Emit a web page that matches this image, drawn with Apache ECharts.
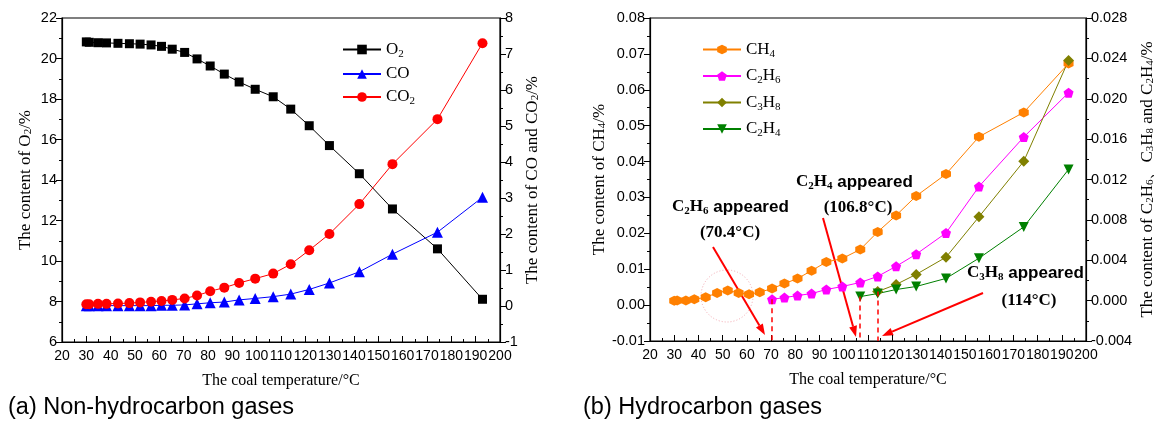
<!DOCTYPE html>
<html>
<head>
<meta charset="utf-8">
<script src="https://cdn.jsdelivr.net/npm/echarts@6/dist/echarts.min.js"></script>
<style>
html, body { margin: 0; padding: 0; background: #fff; }
#main { width: 1158px; height: 427px; }
</style>
</head>
<body>
<div id="main"></div>
<script>
// coal temperatures (°C) of the samples
var temps = [30, 31.2, 34.8, 38.3, 43, 47.7, 52.1, 56.6, 60.9, 65.3, 70.4, 75.5, 80.9, 86.7, 92.8, 99.4, 106.8, 114, 121.6, 129.9, 142.2, 155.8, 174.3, 192.8];

// (a) non-hydrocarbon gases, %
var o2  = [20.82, 20.8, 20.78, 20.77, 20.75, 20.73, 20.71, 20.67, 20.6, 20.46, 20.3, 19.98, 19.63, 19.23, 18.84, 18.48, 18.11, 17.5, 16.68, 15.7, 14.31, 12.57, 10.6, 8.11];
var co  = [0.01, 0.01, 0.01, 0.01, 0.01, 0.01, 0.01, 0.01, 0.02, 0.02, 0.03, 0.06, 0.09, 0.11, 0.17, 0.21, 0.26, 0.33, 0.46, 0.64, 0.95, 1.44, 2.05, 3.02];
var co2 = [0.05, 0.05, 0.06, 0.06, 0.07, 0.08, 0.1, 0.12, 0.14, 0.17, 0.21, 0.29, 0.41, 0.51, 0.64, 0.76, 0.9, 1.16, 1.55, 2.0, 2.83, 3.94, 5.19, 7.3];

// (b) hydrocarbon gases, %
var ch4  = [0.0012, 0.0013, 0.0013, 0.0016, 0.0022, 0.0034, 0.0041, 0.0034, 0.003, 0.0036, 0.0046, 0.006, 0.0074, 0.0096, 0.012, 0.013, 0.0155, 0.0204, 0.025, 0.0304, 0.0365, 0.0469, 0.0537, 0.0673];
var c2h6 = [null, null, null, null, null, null, null, null, null, null, 0.00013, 0.0003, 0.0005, 0.0007, 0.0011, 0.0014, 0.0018, 0.0024, 0.0034, 0.0046, 0.0067, 0.0113, 0.0162, 0.0206];
var c3h8 = [null, null, null, null, null, null, null, null, null, null, null, null, null, null, null, null, null, 0.0009, 0.0016, 0.0026, 0.0043, 0.0083, 0.0138, 0.0238];
var c2h4 = [null, null, null, null, null, null, null, null, null, null, null, null, null, null, null, null, 0.0004, 0.0007, 0.0011, 0.0014, 0.0022, 0.0042, 0.0073, 0.013];

// temperatures where the gases first appear
var c2h6At = 70.4, c2h4At = 106.8, c3h8At = 114;

function pairs(vals){
	var out = [];
	for (var i = 0; i < temps.length; i++) {
		if (vals[i] !== null) out.push([temps[i], vals[i]]);
	}
	return out;
}
function firstVal(vals){
	for (var i = 0; i < vals.length; i++) if (vals[i] !== null) return vals[i];
}

var serif = '"Liberation Serif", "Times New Roman", serif';
var sans = '"Liberation Sans", Arial, sans-serif';

var subRich = {
	t: {fontFamily: serif, fontSize: 17, color: '#000', lineHeight: 20, verticalAlign: 'middle'},
	s: {fontFamily: serif, fontSize: 11, color: '#000', lineHeight: 8, verticalAlign: 'bottom'},
	tb: {fontFamily: serif, fontSize: 17, fontWeight: 'bold', color: '#000', lineHeight: 20, verticalAlign: 'middle'},
	sb: {fontFamily: serif, fontSize: 11, fontWeight: 'bold', color: '#000', lineHeight: 8, verticalAlign: 'bottom'},
	ab: {fontFamily: sans, fontSize: 17, fontWeight: 'bold', color: '#000', lineHeight: 20, verticalAlign: 'middle'}
};

var legendNames = {
	'O2': '{t|O}{s|2}', 'CO': '{t|CO}', 'CO2': '{t|CO}{s|2}',
	'CH4': '{t|CH}{s|4}', 'C2H6': '{t|C}{s|2}{t|H}{s|6}', 'C3H8': '{t|C}{s|3}{t|H}{s|8}', 'C2H4': '{t|C}{s|2}{t|H}{s|4}'
};

function xAx(gi){
	return {
		type: 'value', gridIndex: gi, min: 20, max: 200, interval: 10,
		name: 'The coal temperature/°C', nameLocation: 'middle', nameGap: 31,
		nameTextStyle: {fontFamily: serif, fontSize: 16, color: '#000'},
		axisLine: {onZero: false, lineStyle: {color: '#000', width: 1.2}},
		axisTick: {inside: true, length: 6, lineStyle: {color: '#000'}},
		minorTick: {show: true, splitNumber: 2, length: 3, lineStyle: {color: '#000'}},
		axisLabel: {fontFamily: sans, fontSize: 14, color: '#000', margin: 7,
			hideOverlap: false, showMinLabel: true, showMaxLabel: true},
		splitLine: {show: false}
	};
}
function yAx(gi, pos, mn, mx, step, digits, name, gap){
	return {
		type: 'value', gridIndex: gi, position: pos, min: mn, max: mx, interval: step,
		name: name, nameLocation: 'middle', nameGap: gap,
		nameTextStyle: {fontFamily: serif, fontSize: 17, color: '#000', rich: subRich},
		axisLine: {show: true, onZero: false, lineStyle: {color: '#000', width: 1.2}},
		axisTick: {show: true, inside: false, length: 6, lineStyle: {color: '#000'}},
		minorTick: {show: true, splitNumber: 2, length: 3, lineStyle: {color: '#000'}},
		axisLabel: {fontFamily: sans, fontSize: 14.5, color: '#000', margin: 5,
			showMinLabel: true, showMaxLabel: true,
			formatter: function(v){ return v.toFixed(digits); }},
		splitLine: {show: false}
	};
}

function arrow(x1, y1, x2, y2){
	var dx = x2 - x1, dy = y2 - y1, len = Math.sqrt(dx*dx + dy*dy);
	var ux = dx/len, uy = dy/len, hl = 11, hw = 4;
	var bx = x2 - ux*hl, by = y2 - uy*hl;
	return [
		{type: 'line', shape: {x1: x1, y1: y1, x2: bx, y2: by}, style: {stroke: '#f00', lineWidth: 2}},
		{type: 'polygon', shape: {points: [[x2, y2], [bx - uy*hw, by + ux*hw], [bx + uy*hw, by - ux*hw]]}, style: {fill: '#f00'}}
	];
}
function note(x, y, txt, align){
	return {type: 'text', x: x, y: y, style: {text: txt, rich: subRich, align: align, verticalAlign: 'middle'}};
}

var dashLine = {color: '#f00', type: [5, 4], width: 1.5};
function appearLine(t, v){
	return {silent: true, symbol: ['none', 'none'], label: {show: false}, lineStyle: dashLine,
		data: [[{coord: [t, v]}, {coord: [t, -0.004]}]]};
}

function lineSeries(name, x, y, data, color, symbol, size, extra){
	var s = {
		name: name, type: 'line', xAxisIndex: x, yAxisIndex: y, data: data,
		symbol: symbol, symbolSize: size,
		lineStyle: {color: color, width: 1},
		itemStyle: {color: color},
		emphasis: {disabled: true}
	};
	if (extra) for (var k in extra) s[k] = extra[k];
	return s;
}

var hexagon = 'path://M0,-1 L0.866,-0.5 L0.866,0.5 L0,1 L-0.866,0.5 L-0.866,-0.5 Z';
var pentagon = 'path://M0,-1 L0.951,-0.309 L0.588,0.809 L-0.588,0.809 L-0.951,-0.309 Z';
var downTri = 'path://M-1,-0.9 L1,-0.9 L0,0.9 Z';

var chart = echarts.init(document.getElementById('main'));
var graphics = [
	{type: 'text', left: 8, top: 396, style: {text: '(a) Non-hydrocarbon gases', font: '23.5px ' + sans, fill: '#000'}},
	{type: 'text', left: 583, top: 396, style: {text: '(b) Hydrocarbon gases', font: '23.5px ' + sans, fill: '#000'}},
	{type: 'circle', shape: {cx: 727, cy: 296, r: 26}, style: {fill: 'none', stroke: '#f4a8b0', lineWidth: 1, lineDash: [1, 2]}},
	note(672, 207, '{tb|C}{sb|2}{tb|H}{sb|6}{ab| appeared}', 'left'),
	note(730, 233, '{tb|(70.4°C)}', 'center'),
	note(796, 182, '{tb|C}{sb|2}{tb|H}{sb|4}{ab| appeared}', 'left'),
	note(858, 208, '{tb|(106.8°C)}', 'center'),
	note(967, 273, '{tb|C}{sb|3}{tb|H}{sb|8}{ab| appeared}', 'left'),
	note(1029, 301, '{tb|(114°C)}', 'center')
].concat(arrow(713, 247, 765, 335), arrow(823, 218, 856, 337), arrow(983, 293, 882, 336));

chart.setOption({
	animation: false,
	backgroundColor: '#fff',
	grid: [
		{left: 62, top: 18, width: 438, height: 324, show: true, borderColor: '#000', borderWidth: 1.2},
		{left: 650, top: 18, width: 436, height: 323, show: true, borderColor: '#000', borderWidth: 1.2}
	],
	xAxis: [xAx(0), xAx(1)],
	yAxis: [
		yAx(0, 'left', 6, 22, 2, 0, 'The content of O{s|2}/%', 28),
		yAx(0, 'right', -1, 8, 1, 0, 'The content of CO and CO{s|2}/%', 24),
		yAx(1, 'left', -0.01, 0.08, 0.01, 2, 'The content of CH{s|4}/%', 42),
		yAx(1, 'right', -0.004, 0.028, 0.004, 3, 'The content of C{s|2}H{s|6}、C{s|3}H{s|8} and C{s|2}H{s|4}/%', 53)
	],
	legend: [
		{
			data: ['O2', 'CO', 'CO2'], left: 337, top: 36, orient: 'vertical',
			itemWidth: 38, itemHeight: 12, itemGap: 6,
			formatter: function(n){ return legendNames[n]; },
			textStyle: {rich: subRich}, selectedMode: false
		},
		{
			data: ['CH4', 'C2H6', 'C3H8', 'C2H4'], left: 697, top: 36, orient: 'vertical',
			itemWidth: 38, itemHeight: 12, itemGap: 8,
			formatter: function(n){ return legendNames[n]; },
			textStyle: {rich: subRich}, selectedMode: false
		}
	],
	graphic: graphics,
	series: [
		lineSeries('O2', 0, 0, pairs(o2), '#000', 'rect', 9),
		lineSeries('CO', 0, 1, pairs(co), '#0000ff', 'triangle', 11),
		lineSeries('CO2', 0, 1, pairs(co2), '#ff0000', 'circle', 10),
		lineSeries('CH4', 1, 2, pairs(ch4), '#ff8000', hexagon, 10),
		lineSeries('C2H6', 1, 3, pairs(c2h6), '#ff00ff', pentagon, 10, {markLine: appearLine(c2h6At, firstVal(c2h6))}),
		lineSeries('C3H8', 1, 3, pairs(c3h8), '#808000', 'diamond', 11, {markLine: appearLine(c3h8At, firstVal(c3h8))}),
		lineSeries('C2H4', 1, 3, pairs(c2h4), '#008000', downTri, 10, {markLine: appearLine(c2h4At, firstVal(c2h4))})
	]
});
</script>
</body>
</html>
